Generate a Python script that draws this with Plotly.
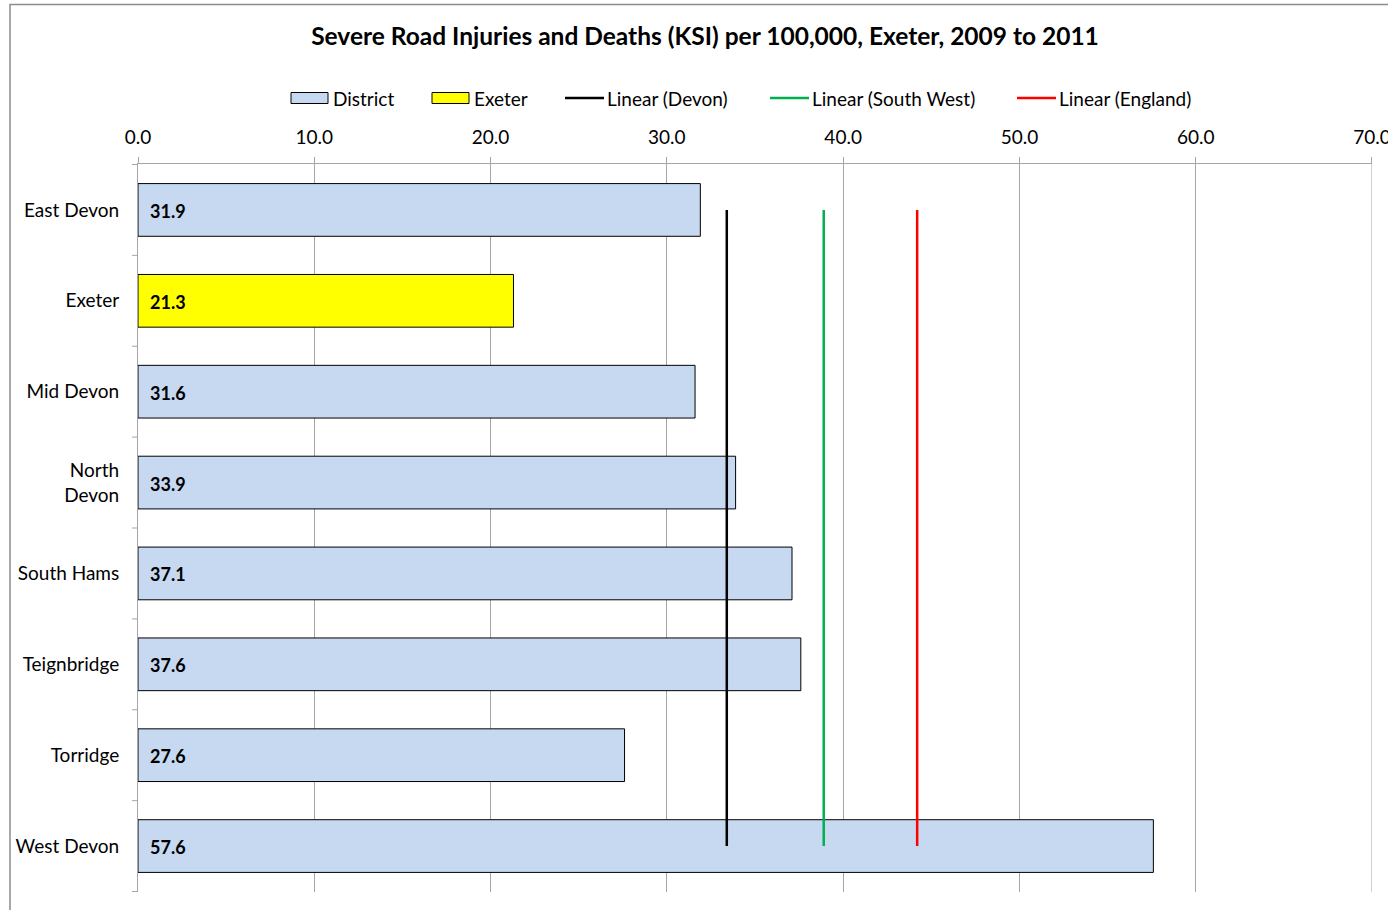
import plotly.graph_objects as go

districts = ["East Devon", "Exeter", "Mid Devon", "North<br>Devon", "South Hams",
             "Teignbridge", "Torridge", "West Devon"]
ksi = [31.9, 21.3, 31.6, 33.9, 37.1, 37.6, 27.6, 57.6]
highlight = "Exeter"
devon_avg = 33.4
south_west_avg = 38.9
england_avg = 44.2
x_ticks = [0, 10, 20, 30, 40, 50, 60, 70]

FONT = "Lato"
blue = "#C6D9F1"
yellow = "#FFFF00"

W, H = 1388, 910
L, R, T, B = 138, 16, 164, 18
PW, PH = W - L - R, H - T - B


def px(x):
    return (x - L) / PW


def py(y):
    return (H - B - y) / PH


district_y = [d for d in districts if d != highlight]
district_x = [v for d, v in zip(districts, ksi) if d != highlight]
ex_y = [d for d in districts if d == highlight]
ex_x = [v for d, v in zip(districts, ksi) if d == highlight]

fig = go.Figure()
fig.add_trace(go.Bar(y=district_y, x=district_x, orientation="h", name="District",
                     marker=dict(color=blue, line=dict(color="#000000", width=1)),
                     width=0.58, showlegend=False))
fig.add_trace(go.Bar(y=ex_y, x=ex_x, orientation="h", name="Exeter",
                     marker=dict(color=yellow, line=dict(color="#000000", width=1)),
                     width=0.58, showlegend=False))

line_y = [districts[0], districts[-1]]
lines = [("Linear (Devon)", devon_avg, "#000000"),
         ("Linear (South West)", south_west_avg, "#00B050"),
         ("Linear (England)", england_avg, "#FF0000")]
for name, val, col in lines:
    fig.add_trace(go.Scatter(x=[val, val], y=line_y, mode="lines", name=name,
                             line=dict(color=col, width=2.5), showlegend=False))

for d, v in zip(districts, ksi):
    fig.add_annotation(x=0, y=d, text="<b>%.1f</b>" % v, showarrow=False,
                       xanchor="left", xshift=10, yshift=-1,
                       font=dict(family=FONT, size=18, color="#000000"))

# manual legend (Excel style)
leg_y = 98
legend_items = [("box", "District", blue, 291),
                ("box", "Exeter", yellow, 432),
                ("line", "Linear (Devon)", "#000000", 565),
                ("line", "Linear (South West)", "#00B050", 770),
                ("line", "Linear (England)", "#FF0000", 1017)]
for kind, label, col, x0 in legend_items:
    if kind == "box":
        fig.add_shape(type="rect", xref="paper", yref="paper",
                      x0=px(x0), x1=px(x0 + 37), y0=py(leg_y + 5.5), y1=py(leg_y - 5.5),
                      fillcolor=col, line=dict(color="#000000", width=1))
    else:
        fig.add_shape(type="line", xref="paper", yref="paper",
                      x0=px(x0), x1=px(x0 + 39), y0=py(leg_y), y1=py(leg_y),
                      line=dict(color=col, width=2.5))
    fig.add_annotation(xref="paper", yref="paper", x=px(x0 + 40), y=py(leg_y),
                       text=label, showarrow=False, xanchor="left", yanchor="middle",
                       font=dict(family=FONT, size=19, color="#000000"))

fig.update_layout(
    width=W, height=H,
    margin=dict(l=L, r=R, t=T, b=B),
    paper_bgcolor="white", plot_bgcolor="white",
    barmode="overlay",
    font=dict(family=FONT, size=19, color="#000000"),
    title=dict(text="<b>Severe Road Injuries and Deaths (KSI) per 100,000, Exeter, 2009 to 2011</b>",
               x=705 / W, xanchor="center", y=1 - 36 / H, yanchor="middle",
               font=dict(family=FONT, size=24.5, color="#000000")),
    showlegend=False,
)
fig.update_xaxes(range=[0, 70.001], side="top", tickvals=x_ticks,
                 ticktext=["%.1f" % t for t in x_ticks],
                 showgrid=True, gridcolor="#A6A6A6", gridwidth=1,
                 showline=True, linecolor="#A6A6A6", linewidth=1,
                 ticks="outside", ticklen=6, tickcolor="#A6A6A6",
                 ticklabelstandoff=5, automargin=False, ticklabeloverflow="allow",
                 zeroline=False, tickfont=dict(family=FONT, size=19))
fig.update_yaxes(categoryorder="array", categoryarray=districts, autorange="reversed",
                 showline=True, linecolor="#A6A6A6", linewidth=1,
                 ticks="", showgrid=False, ticklabelstandoff=14, automargin=False,
                 tickfont=dict(family=FONT, size=19))

# right edge gridline at 70
fig.add_shape(type="line", xref="x", yref="paper", x0=70, x1=70, y0=0, y1=1,
              line=dict(color="#A6A6A6", width=1), layer="below")

# category boundary tick marks
for i in range(len(districts) + 1):
    fig.add_shape(type="line", xref="paper", yref="y", x0=px(132), x1=0,
                  y0=i - 0.5, y1=i - 0.5, line=dict(color="#A6A6A6", width=1))

# outer chart border
fig.add_shape(type="rect", xref="paper", yref="paper",
              x0=px(10), x1=px(1500), y0=py(1000), y1=py(4.5),
              line=dict(color="#8C8C8C", width=1.5), layer="below")

fig.write_html("out.html", config={"displayModeBar": False, "responsive": False},
               post_script="document.body.style.margin='0';document.body.style.overflow='hidden';")
